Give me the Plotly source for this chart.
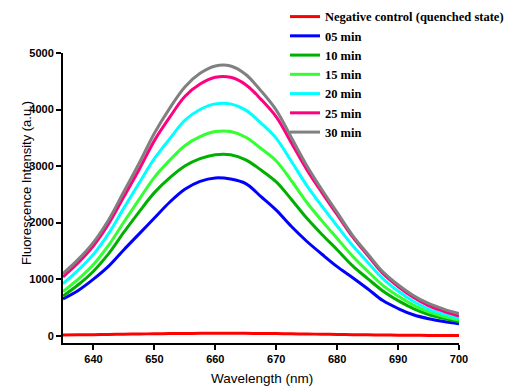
import plotly.graph_objects as go

wavelength = [635, 637.5, 640, 642.5, 645, 647.5, 650, 652.5, 655, 657.5, 660, 662.5, 665,
              667.5, 670, 672.5, 675, 677.5, 680, 682.5, 685, 687.5, 690, 692.5, 695, 697.5, 700]

neg_control = [10, 14, 18, 22, 26, 30, 33, 36, 39, 41, 42, 42, 41, 39, 36, 33, 29, 25, 21,
               17, 14, 11, 8, 6, 4, 3, 2]
min05 = [650, 800, 1000, 1230, 1520, 1800, 2080, 2360, 2590, 2730, 2790, 2770, 2690, 2460,
         2220, 1930, 1670, 1440, 1220, 1030, 830, 620, 480, 370, 300, 250, 210]
min10 = [700, 900, 1140, 1450, 1830, 2190, 2530, 2790, 3000, 3130, 3200, 3200, 3110, 2930,
         2720, 2410, 2080, 1790, 1520, 1240, 1010, 790, 620, 480, 375, 305, 245]
min15 = [780, 1000, 1260, 1600, 2010, 2410, 2800, 3100, 3360, 3520, 3610, 3610, 3510, 3310,
         3090, 2740, 2360, 2030, 1720, 1410, 1140, 890, 700, 540, 420, 340, 275]
min20 = [920, 1160, 1440, 1810, 2260, 2700, 3130, 3480, 3810, 4000, 4100, 4100, 3990, 3760,
         3490, 3080, 2660, 2290, 1940, 1600, 1300, 1010, 790, 610, 470, 380, 305]
min25 = [1040, 1290, 1590, 1980, 2460, 2940, 3450, 3860, 4230, 4450, 4570, 4570, 4440, 4180,
         3870, 3410, 2940, 2530, 2140, 1750, 1420, 1100, 870, 680, 530, 430, 345]
min30 = [1100, 1350, 1650, 2050, 2550, 3050, 3580, 4020, 4400, 4640, 4770, 4770, 4620, 4330,
         3990, 3500, 3010, 2580, 2180, 1780, 1450, 1130, 900, 710, 570, 470, 390]

series_names = ["Negative control (quenched state)", "05 min", "10 min", "15 min",
                "20 min", "25 min", "30 min"]
series_values = [neg_control, min05, min10, min15, min20, min25, min30]
series_colors = ["#FF0000", "#0000FF", "#00B000", "#33FF33", "#00FFFF", "#FF0080", "#808080"]

y_ticks = [0, 1000, 2000, 3000, 4000, 5000]
x_ticks = [640, 650, 660, 670, 680, 690, 700]

fig = go.Figure()
for name, vals, col in zip(series_names, series_values, series_colors):
    fig.add_trace(go.Scatter(x=wavelength, y=vals, mode="lines", name=name,
                             line=dict(color=col, width=3, shape="spline")))

axis_common = dict(showline=True, linecolor="black", linewidth=2, ticks="outside",
                   ticklen=5, tickwidth=2, tickcolor="black", showgrid=False, zeroline=False,
                   automargin=False,
                   tickfont=dict(family="Arial, Liberation Sans", size=11, color="black",
                                 weight="bold"))

# The page body adds an 8px offset on the left/top, so the figure is 8px smaller there.
fig.update_layout(
    width=517, height=379,
    margin=dict(l=55, r=66, t=45, b=44, pad=0, autoexpand=False),
    plot_bgcolor="white", paper_bgcolor="white",
    xaxis=dict(range=[635, 700], tickvals=x_ticks, **axis_common),
    yaxis=dict(range=[-130, 5000], tickvals=y_ticks, **axis_common),
    legend=dict(x=0.5606, y=1.176, xanchor="left", yanchor="top",
                bgcolor="rgba(0,0,0,0)",
                font=dict(family="Liberation Serif, Times New Roman", size=12.5,
                          color="black", weight="bold"),
                tracegroupgap=0),
    showlegend=True,
    annotations=[
        dict(text="Fluorescence Intensity (a.u.)", xref="paper", yref="paper",
             x=-0.0909, y=0.552, xanchor="center", yanchor="middle",
             showarrow=False, textangle=-90,
             font=dict(family="Arial, Liberation Sans", size=13, color="black")),
        dict(text="Wavelength (nm)", xref="paper", yref="paper",
             x=0.5025, y=-0.122, xanchor="center", yanchor="middle", showarrow=False,
             font=dict(family="Arial, Liberation Sans", size=13.5, color="black")),
    ],
)

fig.write_html("out.html")
